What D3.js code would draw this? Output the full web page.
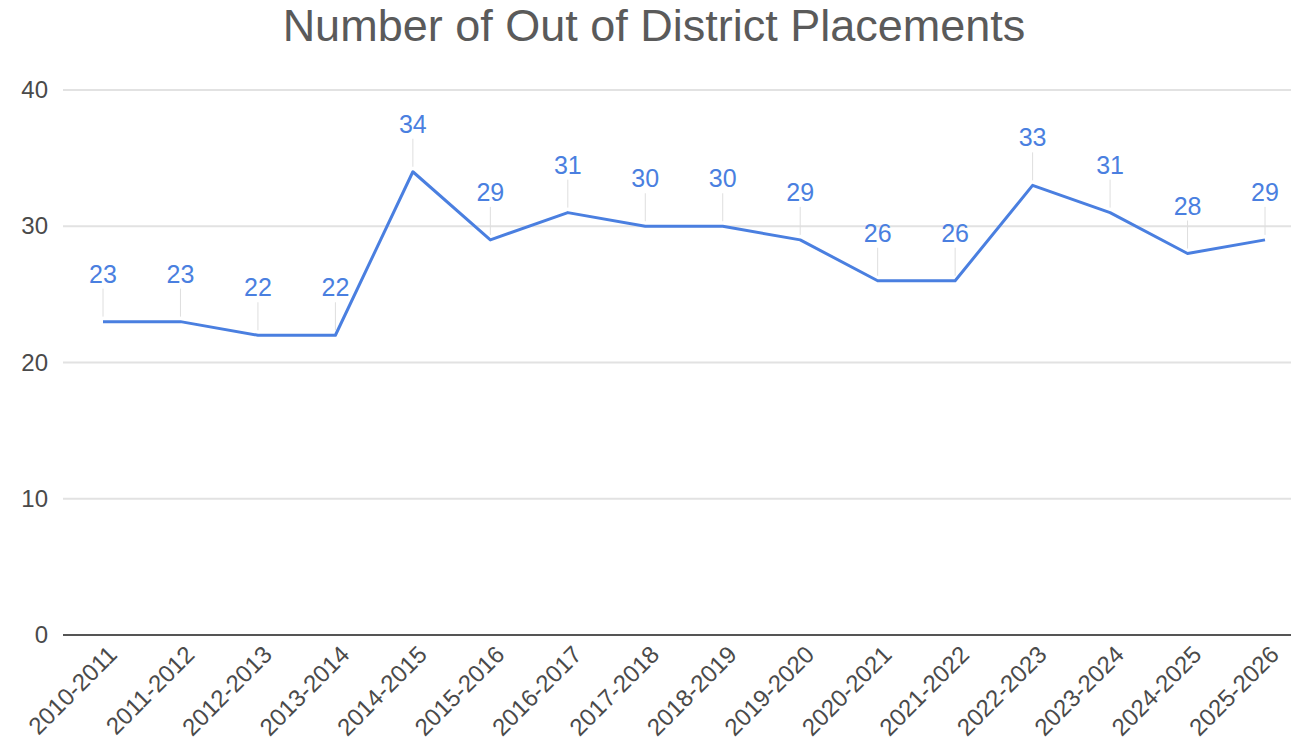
<!DOCTYPE html>
<html>
<head>
<meta charset="utf-8">
<script src="https://cdn.jsdelivr.net/npm/d3@7"></script>
<style>
  body { margin: 0; background: #fff; }
  svg { display: block; font-family: "Liberation Sans", Arial, sans-serif; }
</style>
</head>
<body>
<svg id="chart" width="1291" height="754"></svg>
<script>
// school years along the x axis
const years = ["2010-2011", "2011-2012", "2012-2013", "2013-2014", "2014-2015", "2015-2016",
    "2016-2017", "2017-2018", "2018-2019", "2019-2020", "2020-2021", "2021-2022",
    "2022-2023", "2023-2024", "2024-2025", "2025-2026"];

// number of out of district placements per year
const placements = [23, 23, 22, 22, 34, 29, 31, 30, 30, 29, 26, 26, 33, 31, 28, 29];

const yTicks = [0, 10, 20, 30, 40];

const title = "Number of Out of District Placements";

const svg = d3.select("#chart");
const left = 63, right = 1291;
const blue = "#4a7fe0";
const font = "\"Liberation Sans\", Arial, sans-serif";

const x = d3.scalePoint()
    .domain(years)
    .range([103, 1265]);

const y = d3.scaleLinear()
    .domain([0, 40])
    .range([635, 90]);

svg.append("text")
    .attr("x", 654)
    .attr("y", 41)
    .attr("text-anchor", "middle")
    .attr("fill", "#5a5a5a")
    .style("font-size", "45px")
    .text(title);

// gridlines
svg.append("g")
    .selectAll("line")
    .data(yTicks.filter(d => d !== 0))
    .join("line")
    .attr("x1", left)
    .attr("x2", right)
    .attr("y1", d => y(d))
    .attr("y2", d => y(d))
    .attr("stroke", "#e2e2e2")
    .attr("stroke-width", 2);

// y axis labels
const yAxis = svg.append("g")
    .attr("transform", `translate(${left},0)`)
    .call(d3.axisLeft(y).tickValues(yTicks).tickSize(0).tickPadding(15));
yAxis.select(".domain").remove();
yAxis.selectAll("text")
    .attr("fill", "#4a4a4a")
    .style("font-size", "24px")
    .style("font-family", font);

// baseline
svg.append("line")
    .attr("x1", left)
    .attr("x2", right)
    .attr("y1", y(0))
    .attr("y2", y(0))
    .attr("stroke", "#555")
    .attr("stroke-width", 2);

// x axis labels
const xAxis = svg.append("g")
    .attr("transform", `translate(0,${y(0)})`)
    .call(d3.axisBottom(x).tickSize(0).tickPadding(0));
xAxis.select(".domain").remove();
xAxis.selectAll("text")
    .attr("fill", "#4a4a4a")
    .style("font-size", "24px")
    .style("font-family", font)
    .attr("text-anchor", "end")
    .attr("dy", "0")
    .attr("transform", "translate(15,21) rotate(-45)");

const pts = years.map((yr, i) => ({year: yr, value: placements[i]}));

// leader lines from labels to points
svg.append("g")
    .selectAll("line")
    .data(pts)
    .join("line")
    .attr("x1", d => x(d.year))
    .attr("x2", d => x(d.year))
    .attr("y1", d => y(d.value) - 5)
    .attr("y2", d => y(d.value) - 33)
    .attr("stroke", "#dedede")
    .attr("stroke-width", 1);

svg.append("path")
    .datum(pts)
    .attr("fill", "none")
    .attr("stroke", blue)
    .attr("stroke-width", 3)
    .attr("stroke-linejoin", "round")
    .attr("d", d3.line().x(d => x(d.year)).y(d => y(d.value)));

svg.append("g")
    .selectAll("text")
    .data(pts)
    .join("text")
    .attr("x", d => x(d.year))
    .attr("y", d => y(d.value) - 39)
    .attr("text-anchor", "middle")
    .attr("fill", blue)
    .style("font-size", "25px")
    .text(d => d.value);
</script>
</body>
</html>
